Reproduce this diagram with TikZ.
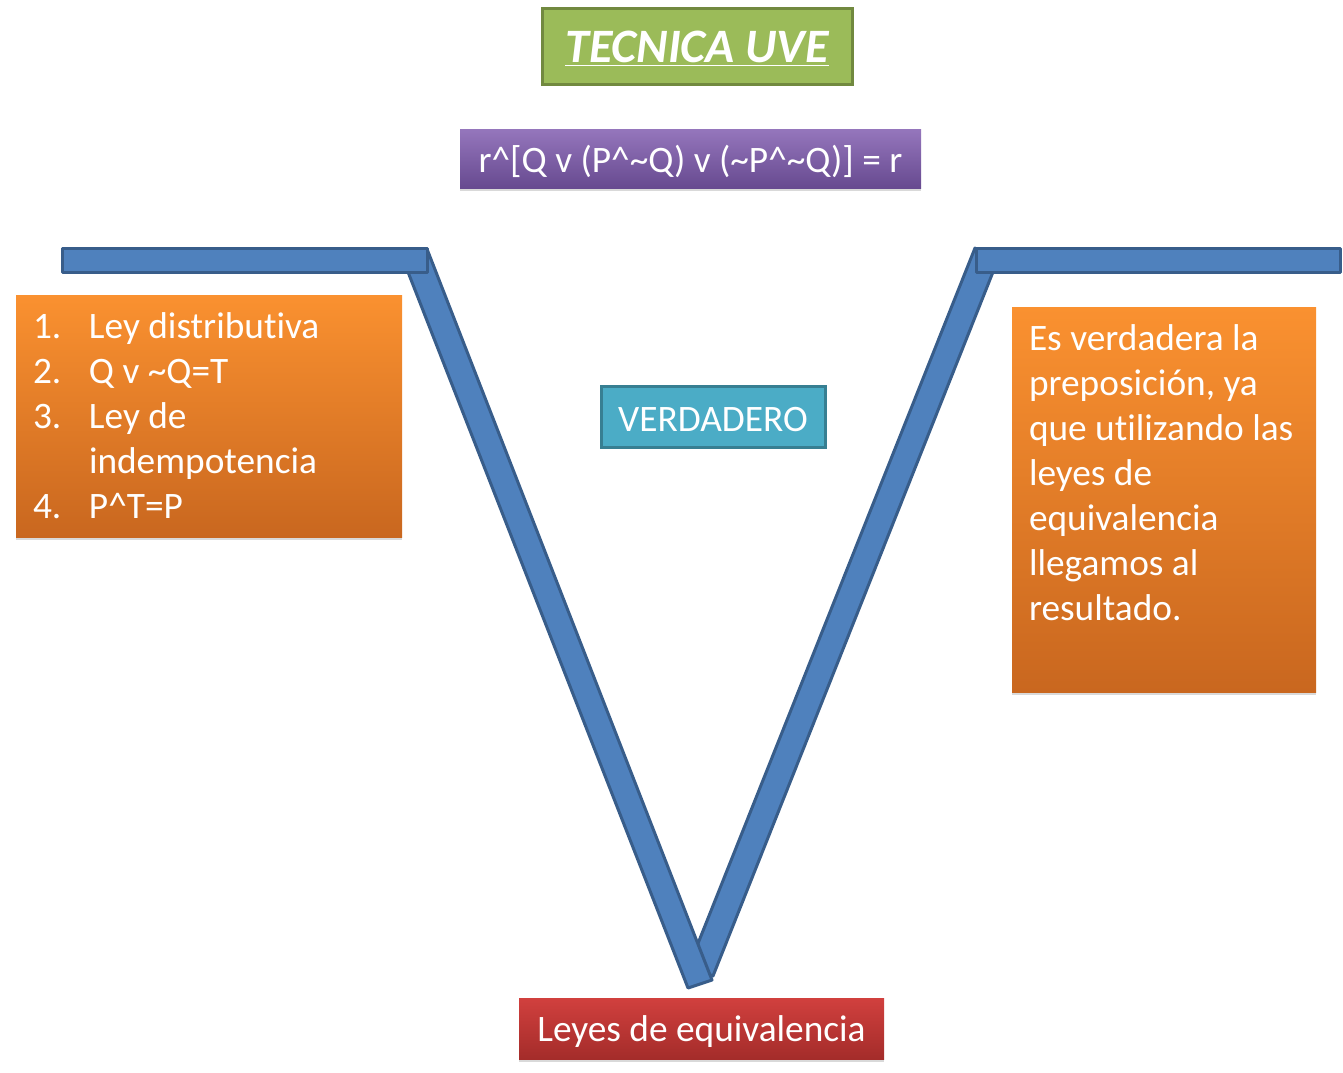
\documentclass[tikz,border=0pt]{standalone}
\usepackage{fontspec}
\setmainfont{Carlito}[Ligatures={NoCommon}]
\usetikzlibrary{shadows}

\definecolor{vblue}{HTML}{4F81BD}
\definecolor{vblueline}{HTML}{385D8A}
\definecolor{vgreen}{HTML}{9BBB59}
\definecolor{vgreenline}{HTML}{71893F}
\definecolor{vpurpletop}{HTML}{9576BC}
\definecolor{vpurplebot}{HTML}{674A90}
\definecolor{vorangetop}{HTML}{FA9130}
\definecolor{vorangebot}{HTML}{C9671F}
\definecolor{vteal}{HTML}{4BACC6}
\definecolor{vtealline}{HTML}{377F92}
\definecolor{vredtop}{HTML}{D1403E}
\definecolor{vredbot}{HTML}{A42C2A}

\newcommand\vcaret{\textasciicircum}
\newcommand\vtilde{\textasciitilde}
\newcommand\vlow[1]{\raisebox{-2pt}[\height][\depth]{#1}}

\tikzset{
    box/.style={inner sep=0pt, text=white, font=\fontsize{28}{33.75}\selectfont},
    softshadow/.style={drop shadow={shadow xshift=0pt, shadow yshift=-2.5pt, opacity=0.3}},
    titlebox/.style={box, fill=vgreen, draw=vgreenline, line width=2.25pt,
        font=\fontsize{36}{42}\selectfont\bfseries\itshape},
    formulabox/.style={box, softshadow, top color=vpurpletop, bottom color=vpurplebot},
    orangebox/.style={box, softshadow, top color=vorangetop, bottom color=vorangebot},
    tealbox/.style={box, fill=vteal, draw=vtealline, line width=2.25pt},
    redbox/.style={box, softshadow, top color=vredtop, bottom color=vredbot},
    boxtext/.style={box, align=left},
    vstrip/.style={fill=vblue, draw=vblueline, line width=2.25pt, line join=round},
}

\begin{document}
\begin{tikzpicture}[x=0.75pt,y=-0.75pt]
    \useasboundingbox (0,0) rectangle (1343,1072);

    % the V, drawn under the boxes
    \draw[vstrip] (975,248) -- (993,272) -- (713,976) -- (689,966) -- cycle;
    \draw[vstrip] (408,272) -- (427,249) -- (712,980) -- (688,988) -- cycle;
    \draw[vstrip] (62,248) rectangle (427,272);
    \draw[vstrip] (976,248) rectangle (1340,272);

    % title and formula
    \node[titlebox, minimum width=232.5pt, minimum height=57pt] (title) at (697,46)
        {\vlow{\underline{TECNICA UVE}}};
    \node[formulabox, minimum width=345.75pt, minimum height=44.25pt] (formula) at (690.5,158.5)
        {\vlow{r\vcaret[Q v (P\vcaret\vtilde Q) v (\vtilde P\vcaret\vtilde Q)] = r}};

    % left list
    \node[orangebox, minimum width=289.5pt, minimum height=181.5pt] (steps) at (209,416) {};
    \node[boxtext, anchor=west] (steptext) at ([xshift=12.75pt]steps.west)
        {\makebox[42pt][l]{1.}Ley distributiva\\
         \makebox[42pt][l]{2.}Q v \vtilde Q=T\\
         \makebox[42pt][l]{3.}Ley de\\
         \hspace*{42pt}indempotencia\\
         \makebox[42pt][l]{4.}P\vcaret T=P};

    % middle
    \node[tealbox, minimum width=168pt, minimum height=45.75pt] (result) at (713,416.5) {\vlow{VERDADERO}};

    % right conclusion
    \node[orangebox, minimum width=228pt, minimum height=288.75pt] (conclusion) at (1164,499.5) {};
    \node[boxtext, anchor=north west] (conctext) at ([xshift=12.75pt,yshift=-13.5pt]conclusion.north west)
        {Es verdadera la\\
         preposición, ya\\
         que utilizando las\\
         leyes de\\
         equivalencia\\
         llegamos al\\
         resultado.};

    % bottom
    \node[redbox, minimum width=273.75pt, minimum height=45.75pt] (laws) at (701.5,1028.5) {\vlow{Leyes de equivalencia}};
\end{tikzpicture}
\end{document}
